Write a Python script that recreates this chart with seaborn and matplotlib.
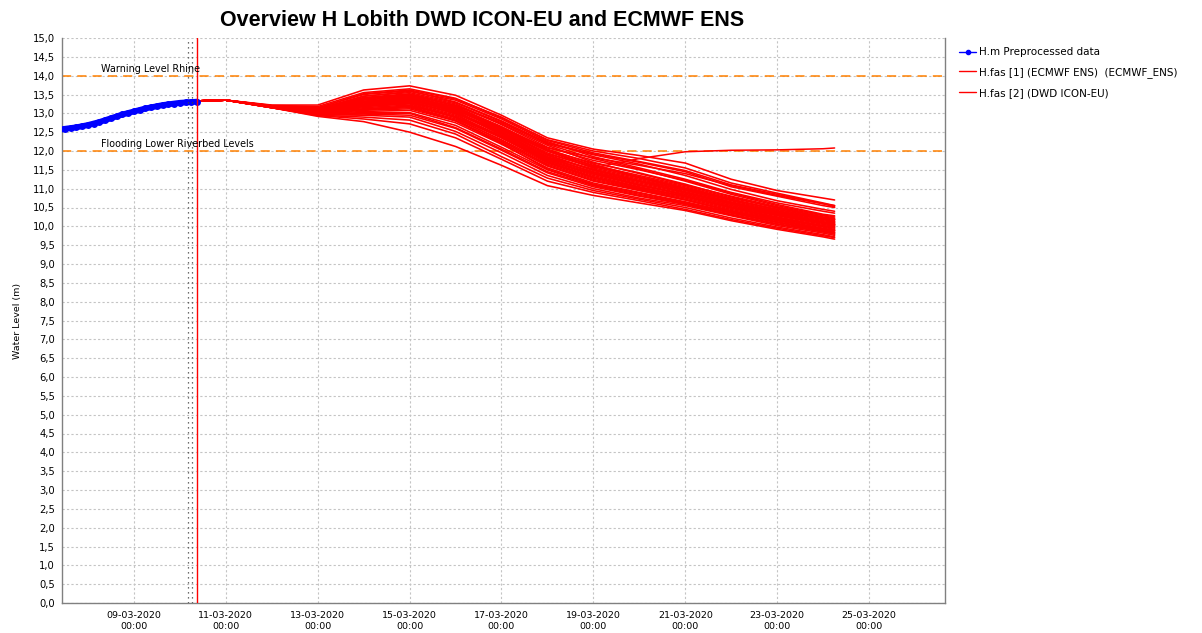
import pandas as pd
import seaborn as sns
import matplotlib.pyplot as plt
import matplotlib.dates as mdates
from matplotlib.lines import Line2D
from matplotlib.ticker import MultipleLocator, FuncFormatter

# observed (preprocessed) water level, 3-hourly
obs_start = '2020-03-07 09:00'
obs_levels = [12.57, 12.59, 12.61, 12.63, 12.66, 12.69, 12.73, 12.77, 12.82,
              12.87, 12.92, 12.97, 13.01, 13.05, 13.09, 13.13, 13.16, 13.19,
              13.22, 13.24, 13.26, 13.28, 13.29, 13.30, 13.31]

# forecast knots
fc_times = ['2020-03-10 09:00', '2020-03-11 00:00', '2020-03-12 00:00', '2020-03-13 00:00',
            '2020-03-14 00:00', '2020-03-15 00:00', '2020-03-16 00:00', '2020-03-17 00:00',
            '2020-03-18 00:00', '2020-03-19 00:00', '2020-03-20 00:00', '2020-03-21 00:00',
            '2020-03-22 00:00', '2020-03-23 00:00', '2020-03-24 00:00', '2020-03-24 06:00']

# ECMWF ENS members
ens_members = [
    [13.33, 13.35, 13.22, 13.22, 13.62, 13.73, 13.48, 12.95, 12.35, 12.05, 11.88, 11.68, 11.25, 10.95, 10.75, 10.70],
    [13.33, 13.35, 13.21, 13.18, 13.55, 13.65, 13.40, 12.88, 12.30, 12.00, 11.80, 11.55, 11.15, 10.88, 10.62, 10.55],
    [13.33, 13.35, 13.20, 13.15, 13.50, 13.60, 13.30, 12.80, 12.22, 11.92, 11.70, 11.45, 11.05, 10.80, 10.55, 10.50],
    [13.33, 13.35, 13.20, 13.12, 13.45, 13.58, 13.35, 12.85, 12.25, 11.85, 11.55, 11.25, 10.90, 10.62, 10.40, 10.35],
    [13.33, 13.35, 13.19, 13.10, 13.42, 13.52, 13.25, 12.70, 12.10, 11.75, 11.50, 11.22, 10.88, 10.58, 10.32, 10.28],
    [13.33, 13.35, 13.19, 13.08, 13.38, 13.48, 13.20, 12.72, 12.15, 11.70, 11.40, 11.10, 10.80, 10.52, 10.28, 10.22],
    [13.33, 13.35, 13.19, 13.07, 13.35, 13.45, 13.15, 12.60, 12.00, 11.62, 11.35, 11.08, 10.75, 10.50, 10.25, 10.20],
    [13.33, 13.35, 13.18, 13.06, 13.32, 13.42, 13.18, 12.65, 12.05, 11.65, 11.30, 11.00, 10.70, 10.45, 10.20, 10.15],
    [13.33, 13.35, 13.18, 13.05, 13.30, 13.40, 13.10, 12.55, 11.95, 11.55, 11.28, 10.98, 10.68, 10.40, 10.18, 10.12],
    [13.33, 13.35, 13.18, 13.05, 13.28, 13.38, 13.08, 12.58, 11.90, 11.50, 11.22, 10.95, 10.65, 10.38, 10.15, 10.10],
    [13.33, 13.35, 13.18, 13.04, 13.25, 13.35, 13.05, 12.50, 11.88, 11.48, 11.20, 10.92, 10.62, 10.35, 10.12, 10.08],
    [13.33, 13.35, 13.18, 13.04, 13.24, 13.32, 13.00, 12.45, 11.82, 11.45, 11.18, 10.90, 10.60, 10.32, 10.10, 10.05],
    [13.33, 13.35, 13.17, 13.03, 13.22, 13.30, 13.02, 12.48, 11.85, 11.42, 11.12, 10.85, 10.55, 10.30, 10.08, 10.02],
    [13.33, 13.35, 13.17, 13.03, 13.20, 13.28, 12.95, 12.40, 11.78, 11.40, 11.10, 10.82, 10.52, 10.28, 10.05, 10.00],
    [13.33, 13.35, 13.17, 13.02, 13.18, 13.25, 12.92, 12.38, 11.75, 11.35, 11.05, 10.80, 10.50, 10.25, 10.02, 9.98],
    [13.33, 13.35, 13.17, 13.02, 13.15, 13.22, 12.90, 12.35, 11.72, 11.32, 11.02, 10.78, 10.48, 10.22, 10.00, 9.95],
    [13.33, 13.35, 13.17, 13.01, 13.12, 13.18, 12.85, 12.30, 11.68, 11.28, 11.00, 10.75, 10.45, 10.20, 9.98, 9.92],
    [13.33, 13.35, 13.16, 13.00, 13.10, 13.15, 12.82, 12.25, 11.65, 11.25, 10.98, 10.72, 10.42, 10.18, 9.95, 9.90],
    [13.33, 13.35, 13.16, 13.00, 13.08, 13.12, 12.80, 12.22, 11.60, 11.20, 10.95, 10.70, 10.40, 10.15, 9.92, 9.88],
    [13.33, 13.35, 13.16, 12.99, 13.05, 13.08, 12.75, 12.18, 11.55, 11.15, 10.90, 10.65, 10.38, 10.12, 9.90, 9.85],
    [13.33, 13.35, 13.16, 12.98, 13.02, 13.02, 12.68, 12.10, 11.50, 11.10, 10.85, 10.62, 10.35, 10.10, 9.88, 9.82],
    [13.33, 13.35, 13.15, 12.97, 12.98, 12.95, 12.60, 12.02, 11.42, 11.05, 10.80, 10.58, 10.30, 10.05, 9.85, 9.80],
    [13.33, 13.35, 13.15, 12.96, 12.95, 12.90, 12.52, 11.95, 11.35, 11.00, 10.75, 10.55, 10.28, 10.02, 9.82, 9.76],
    [13.33, 13.35, 13.15, 12.95, 12.90, 12.82, 12.45, 11.85, 11.28, 10.95, 10.72, 10.50, 10.22, 9.98, 9.78, 9.72],
    [13.33, 13.35, 13.15, 12.94, 12.85, 12.72, 12.35, 11.78, 11.20, 10.90, 10.68, 10.45, 10.18, 9.95, 9.75, 9.70],
    [13.33, 13.35, 13.15, 12.92, 12.78, 12.50, 12.12, 11.62, 11.08, 10.82, 10.62, 10.42, 10.15, 9.92, 9.72, 9.66],
    [13.33, 13.35, 13.18, 13.05, 13.30, 13.38, 13.12, 12.62, 12.08, 11.82, 11.62, 11.40, 11.08, 10.82, 10.60, 10.55],
    [13.33, 13.35, 13.19, 13.10, 13.40, 13.50, 13.22, 12.75, 12.20, 11.90, 11.65, 11.35, 10.98, 10.68, 10.45, 10.40],
    [13.33, 13.35, 13.17, 13.02, 13.20, 13.30, 13.00, 12.55, 12.00, 11.60, 11.30, 11.02, 10.72, 10.45, 10.22, 10.18],
    [13.33, 13.35, 13.16, 13.00, 13.10, 13.20, 12.90, 12.35, 11.75, 11.38, 11.08, 10.85, 10.55, 10.30, 10.08, 10.05],
    [13.33, 13.35, 13.20, 13.14, 13.52, 13.62, 13.38, 12.90, 12.28, 11.95, 11.72, 11.48, 11.10, 10.85, 10.60, 10.52],
    [13.33, 13.35, 13.19, 13.11, 13.46, 13.55, 13.28, 12.78, 12.18, 11.80, 11.52, 11.20, 10.85, 10.55, 10.30, 10.25],
    [13.33, 13.35, 13.18, 13.08, 13.40, 13.46, 13.16, 12.62, 12.02, 11.68, 11.42, 11.12, 10.78, 10.48, 10.24, 10.18],
    [13.33, 13.35, 13.18, 13.06, 13.36, 13.44, 13.12, 12.52, 11.92, 11.58, 11.32, 11.05, 10.72, 10.42, 10.18, 10.12],
    [13.33, 13.35, 13.17, 13.04, 13.32, 13.40, 13.06, 12.46, 11.84, 11.52, 11.25, 10.96, 10.64, 10.36, 10.12, 10.06],
    [13.33, 13.35, 13.17, 13.03, 13.28, 13.36, 13.04, 12.42, 11.80, 11.44, 11.15, 10.88, 10.58, 10.33, 10.10, 10.03],
    [13.33, 13.35, 13.16, 13.01, 13.24, 13.33, 12.98, 12.36, 11.70, 11.30, 11.04, 10.79, 10.49, 10.24, 10.02, 9.96],
    [13.33, 13.35, 13.16, 13.00, 13.18, 13.26, 12.88, 12.28, 11.62, 11.22, 10.96, 10.70, 10.41, 10.16, 9.94, 9.89],
    [13.33, 13.35, 13.15, 12.98, 13.12, 13.18, 12.80, 12.20, 11.52, 11.12, 10.88, 10.64, 10.36, 10.11, 9.89, 9.84],
    [13.33, 13.35, 13.15, 12.97, 13.00, 13.00, 12.62, 12.05, 11.45, 11.08, 10.82, 10.60, 10.32, 10.07, 9.86, 9.79],
]

# DWD ICON-EU
dwd_levels = [13.33, 13.35, 13.20, 13.08, 13.30, 13.40, 13.10, 12.60, 12.00, 11.55, 11.80, 11.98, 12.02, 12.03, 12.06, 12.08]

warning_level = 14.0
flooding_level = 12.0
forecast_time = '2020-03-10 09:00'
marker_times = ['2020-03-10 04:20', '2020-03-10 06:25']

obs = pd.DataFrame({'time': pd.date_range(obs_start, periods=len(obs_levels), freq='3h'),
                    'level': obs_levels})
rows = []
for i, m in enumerate(ens_members):
    for t, v in zip(fc_times, m):
        rows.append((pd.Timestamp(t), v, i))
ens = pd.DataFrame(rows, columns=['time', 'level', 'member'])
dwd = pd.DataFrame({'time': [pd.Timestamp(t) for t in fc_times], 'level': dwd_levels})

sns.set_style('white')
plt.rcParams['font.family'] = ['DejaVu Sans']
plt.rcParams['text.color'] = 'black'
plt.rcParams['xtick.labelcolor'] = 'black'
plt.rcParams['ytick.labelcolor'] = 'black'

fig = plt.figure(figsize=(12.02, 6.33), dpi=100)
ax = fig.add_axes([62 / 1202, 1 - 603 / 633, (945 - 62) / 1202, (603 - 38) / 633])

ax.axhline(warning_level, color='#ff8000', lw=1.1, ls=(0, (6, 4)), zorder=2)
ax.axhline(flooding_level, color='#ff8000', lw=1.1, ls=(0, (6, 4)), zorder=2)

sns.lineplot(data=ens, x='time', y='level', units='member', estimator=None,
             color='#ff0000', lw=1.15, ax=ax, legend=False, zorder=3)
sns.lineplot(data=dwd, x='time', y='level', color='#ff0000', lw=1.1, ax=ax,
             legend=False, zorder=3)
sns.lineplot(data=obs, x='time', y='level', color='#0000ff', lw=4.2, marker='o',
             markersize=5, markeredgewidth=0, ax=ax, legend=False, zorder=4)

ax.axvline(pd.Timestamp(forecast_time), color='#ff0000', lw=1, zorder=5)
for t in marker_times:
    ax.axvline(pd.Timestamp(t), color='#404040', lw=0.9, ls=(0, (1, 3)), zorder=5)

ax.text(pd.Timestamp('2020-03-08 06:45'), warning_level + 0.05, 'Warning Level Rhine',
        fontsize=6.9, va='bottom', ha='left', zorder=6)
ax.text(pd.Timestamp('2020-03-08 06:45'), flooding_level + 0.05, 'Flooding Lower Riverbed Levels',
        fontsize=6.9, va='bottom', ha='left', zorder=6)

ax.set_xlim(pd.Timestamp('2020-03-07 10:26'), pd.Timestamp('2020-03-26 15:40'))
ax.set_ylim(0, 15)
ax.yaxis.set_major_locator(MultipleLocator(0.5))
ax.yaxis.set_major_formatter(FuncFormatter(lambda v, p: f'{v:.1f}'.replace('.', ',')))
ax.xaxis.set_major_locator(mdates.DayLocator(bymonthday=range(1, 32, 2)))
ax.xaxis.set_major_formatter(mdates.DateFormatter('%d-%m-%Y\n%H:%M'))

ax.grid(True, color='#c4c4c4', ls=(0, (2, 2)), lw=0.8)
ax.set_axisbelow(True)
ax.tick_params(axis='y', labelsize=7.2, length=3, width=0.8, color='#808080',
               direction='out', pad=2)
ax.tick_params(axis='x', labelsize=6.8, length=3, width=0.8, color='#808080',
               direction='out', pad=3)
for s in ['left', 'bottom', 'right']:
    ax.spines[s].set_color('#808080')
    ax.spines[s].set_linewidth(1)
ax.spines['top'].set_visible(False)
ax.set_xlabel('')
ax.set_ylabel('Water Level (m)', fontsize=6.8, labelpad=8, color='black')

fig.text(482 / 1202, 1 - 20 / 633, 'Overview H Lobith DWD ICON-EU and ECMWF ENS',
         ha='center', va='center', fontsize=15.5, fontweight='bold',
         family='Liberation Sans', color='black')

handles = [
    Line2D([], [], color='#0000ff', lw=1, marker='o', markersize=3),
    Line2D([], [], color='#ff0000', lw=1),
    Line2D([], [], color='#ff0000', lw=1),
]
labels = ['H.m Preprocessed data', 'H.fas [1] (ECMWF ENS)  (ECMWF_ENS)', 'H.fas [2] (DWD ICON-EU)']
fig.legend(handles, labels, loc='upper left', bbox_to_anchor=(955 / 1202, 1 - 43 / 633),
           frameon=False, fontsize=7.5, handlelength=1.6, handletextpad=0.3,
           labelspacing=0.95, borderaxespad=0, labelcolor='black')

fig.savefig('out.png', dpi=100)
